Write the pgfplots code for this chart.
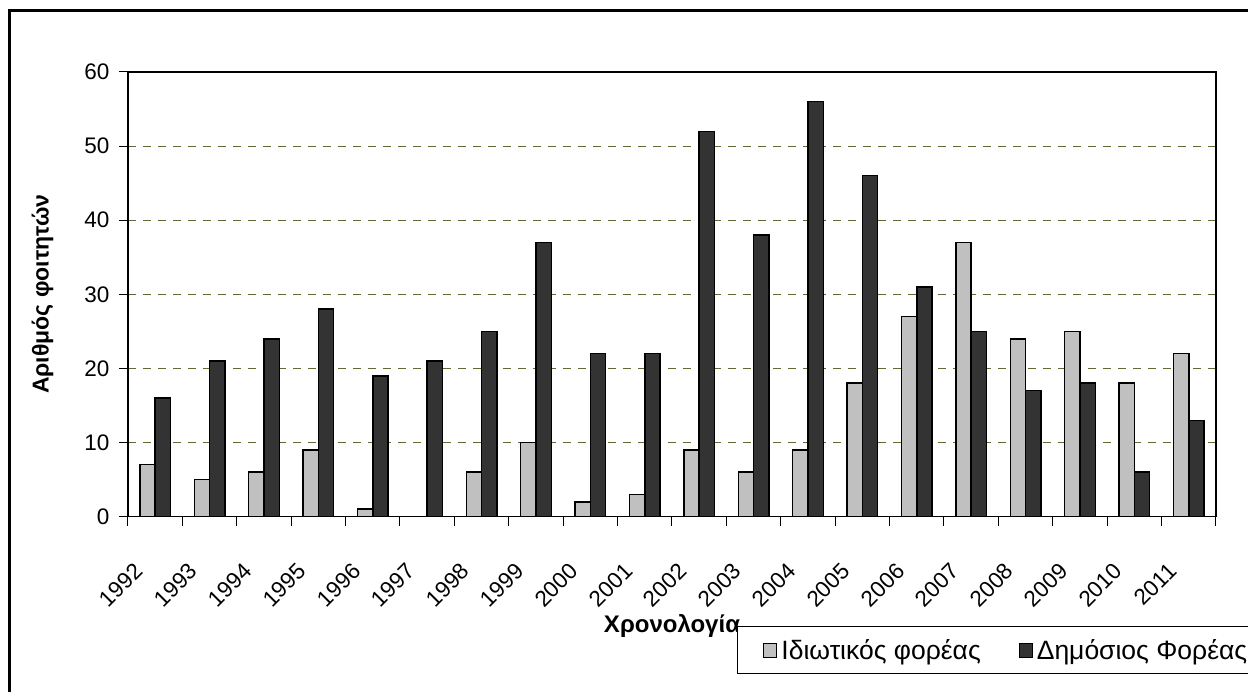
\documentclass[border=0pt]{standalone}
\usepackage{pgfplots}
\pgfplotsset{compat=1.18}
\usepackage{fontspec}
\setmainfont{Liberation Sans}
\definecolor{lgrey}{RGB}{192,192,192}
\definecolor{dgrey}{RGB}{51,51,51}
\definecolor{gridc}{RGB}{102,102,51}
\begin{document}
\begin{tikzpicture}
\useasboundingbox (0,0) rectangle (1248pt,691pt);
\fill[white] (0,0) rectangle (1248pt,691pt);
\clip (0,0) rectangle (1248pt,691pt);
\draw[line width=2.5pt] (9.5pt,-20pt) -- (9.5pt,680.5pt) -- (1270pt,680.5pt);
\begin{axis}[
  at={(128pt,174.4pt)}, anchor=south west,
  scale only axis, width=1088pt, height=444.6pt,
  xmin=-0.5, xmax=19.5, ymin=0, ymax=60,
  ybar=0pt, bar width=15.3pt,
  xtick={-0.5,0.5,...,19.5},
  x tick label as interval,
  xticklabels={1992,1993,1994,1995,1996,1997,1998,1999,2000,2001,2002,2003,2004,2005,2006,2007,2008,2009,2010,2011},
  ytick={0,10,...,60},
  xtick pos=lower, ytick pos=left,
  tick align=outside, major tick length=9pt,
  tick style={black, line width=1pt},
  ymajorgrids,
  grid style={gridc, line width=1pt, dash pattern=on 8pt off 7pt},
  axis line style={line width=1.5pt},
  x tick label style={xshift=-22pt, yshift=-31pt, rotate=45, anchor=north east, font=\fontsize{22.5}{26}\selectfont},
  y tick label style={xshift=-6pt, font=\fontsize{22.5}{26}\selectfont},
  /pgf/number format/assume math mode=true,
  xlabel={\textbf{Χρονολογία}},
  xlabel style={at={(axis description cs:0.5,-0.2596)}, anchor=base, font=\fontsize{24}{28}\selectfont},
  ylabel={\textbf{Αριθμός φοιτητών}},
  ylabel style={at={(axis description cs:-0.0786,0.5)}, anchor=center, font=\fontsize{23}{27}\selectfont},
  legend columns=2,
  legend style={at={(axis description cs:0.5597,-0.2461)}, anchor=north west,
    draw=black, line width=1pt, font=\fontsize{26.5}{30}\selectfont,
    inner xsep=26pt, inner ysep=11pt,
    /tikz/every odd column/.append style={column sep=2pt},
    /tikz/every even column/.append style={column sep=36pt}},
  legend image code/.code={\draw[#1, line width=1pt] (0pt,-7pt) rectangle (13pt,7pt);},
]
\addplot[draw=black, line width=1.5pt, fill=lgrey] coordinates {
(0,7) (1,5) (2,6) (3,9) (4,1) (5,0) (6,6) (7,10) (8,2) (9,3)
(10,9) (11,6) (12,9) (13,18) (14,27) (15,37) (16,24) (17,25) (18,18) (19,22)};
\addplot[draw=black, line width=1.5pt, fill=dgrey] coordinates {
(0,16) (1,21) (2,24) (3,28) (4,19) (5,21) (6,25) (7,37) (8,22) (9,22)
(10,52) (11,38) (12,56) (13,46) (14,31) (15,25) (16,17) (17,18) (18,6) (19,13)};
\legend{Ιδιωτικός φορέας, Δημόσιος Φορέας\hspace*{20pt}}
\end{axis}
\end{tikzpicture}
\end{document}
